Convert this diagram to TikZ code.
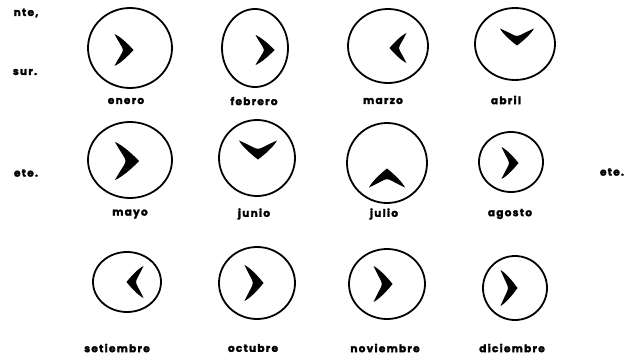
\documentclass[tikz,border=0pt]{standalone}
\usepackage{fontspec}
\newfontfamily\labfont[LetterSpace=12, BoldFeatures={FakeBold=2.5}]{Poppins}
\usetikzlibrary{shapes.geometric}
\newcommand\chev[5]{%
  \fill[shift={(#1,#2)}, rotate=#3, xscale=#4, yscale=#5]
    (0.5,0) .. controls (0.2,0.2) and (-0.2,0.42) .. (-0.5,0.5)
    .. controls (-0.26,0.22) and (-0.06,0.08) .. (-0.06,0)
    .. controls (-0.06,-0.08) and (-0.26,-0.22) .. (-0.5,-0.5)
    .. controls (-0.2,-0.42) and (0.2,-0.2) .. (0.5,0) -- cycle;}
\tikzset{
  month/.style={draw, line width=1.8pt, ellipse, inner sep=0pt},
  lab/.style={font=\labfont\bfseries\fontsize{10.5}{12}\selectfont, inner sep=0pt},
}
\begin{document}
\begin{tikzpicture}[x=1pt, y=-1pt]
\useasboundingbox (0,0) rectangle (638,359);
% side texts
\node[lab] (nte) at (26,13) {nte,};
\node[lab] (sur) at (25,72) {sur.};
\node[lab] (eteL) at (26,173) {ete.};
\node[lab] (eteR) at (612,172) {ete.};
% row 1
\node[month, minimum width=84pt, minimum height=80pt] (c1) at (130,48) {};
\node[month, minimum width=66pt, minimum height=78pt] (c2) at (255,48) {};
\node[month, minimum width=80pt, minimum height=74pt] (c3) at (388,46) {};
\node[month, minimum width=80pt, minimum height=72pt] (c4) at (515,44) {};
\node[lab] (l1) at (126,101) {enero};
\node[lab] (l2) at (254,101) {febrero};
\node[lab] (l3) at (383,101) {marzo};
\node[lab] (l4) at (506,100) {abril};
\chev{124}{50}{0}{19}{32}
\chev{265}{50}{0}{19}{30}
\chev{398}{48}{180}{17}{30}
\chev{517}{37}{-90}{17}{34}
% row 2
\node[month, minimum width=84pt, minimum height=76pt] (c5) at (130,160) {};
\node[month, minimum width=76pt, minimum height=76pt] (c6) at (257,158) {};
\node[month, minimum width=80pt, minimum height=80pt] (c7) at (387,163) {};
\node[month, minimum width=64pt, minimum height=60pt] (c8) at (511,162) {};
\node[lab] (l5) at (130,214) {mayo};
\node[lab] (l6) at (254,214) {junio};
\node[lab] (l7) at (384,214) {julio};
\node[lab] (l8) at (510,214) {agosto};
\chev{127}{161}{0}{24}{38}
\chev{258}{150}{-90}{19}{38}
\chev{387}{178}{90}{19}{36}
\chev{510}{163}{0}{17}{32}
% row 3
\node[month, minimum width=68pt, minimum height=60pt] (c9) at (127,282) {};
\node[month, minimum width=76pt, minimum height=72pt] (c10) at (257,283) {};
\node[month, minimum width=76pt, minimum height=70pt] (c11) at (387,284) {};
\node[month, minimum width=64pt, minimum height=64pt] (c12) at (515,288) {};
\node[lab] (l9) at (117,348) {setiembre};
\node[lab] (l10) at (253,348) {octubre};
\node[lab] (l11) at (385,348) {noviembre};
\node[lab] (l12) at (512,348) {diciembre};
\chev{135}{282}{180}{17}{32}
\chev{254}{283}{0}{19}{36}
\chev{383}{284}{0}{19}{36}
\chev{509}{288}{0}{17}{36}
\end{tikzpicture}
\end{document}
